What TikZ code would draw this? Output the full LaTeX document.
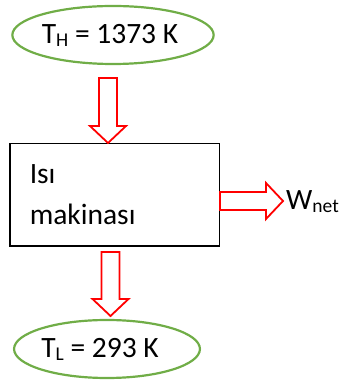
\documentclass[tikz,border=0pt]{standalone}
\usepackage{fontspec}
\setmainfont{Carlito}
\usetikzlibrary{positioning,shapes.geometric,calc}
\definecolor{cres}{HTML}{70AD47}
\definecolor{cflow}{HTML}{FF0000}
\newcommand{\lowsub}[1]{\raisebox{-3pt}{\fontsize{19.5}{20}\selectfont #1}}
\newcommand{\blockarrow}[2]{% start, tip
  \coordinate (hb) at ($(#2)!17pt!(#1)$);
  \draw[flow] ($(#1)!9pt!90:(#2)$) -- ($(hb)!9pt!90:(#2)$) -- ($(hb)!18pt!90:(#2)$)
    -- (#2) -- ($(hb)!18pt!-90:(#2)$) -- ($(hb)!9pt!-90:(#2)$) -- ($(#1)!9pt!-90:(#2)$) -- cycle;}
\tikzset{
  res/.style={ellipse, draw=cres, line width=2.2pt, minimum width=163pt,
              minimum height=58pt, inner sep=0pt, font=\fontsize{29.5}{36}\selectfont},
  machine/.style={rectangle, draw=black, line width=1.5pt, minimum width=209.5pt,
              minimum height=102.5pt, inner xsep=20pt, text width=169.5pt, align=left,
              font=\fontsize{29.5}{41}\selectfont},
  flow/.style={draw=cflow, line width=1.8pt, fill=white, line join=miter}
}

\begin{document}
\begin{tikzpicture}[x=1pt,y=1pt]
\useasboundingbox (0,0) rectangle (338,380);
\node[res] (hot) at (113,345) {T\lowsub{H} = 1373 K\kern6pt};
\node[machine] (eng) at (114.5,185) {Isı\\makinası};
\node[res] (cold) at (107,31) {T\lowsub{L} = 293 K\kern14pt};
\node[anchor=base west, inner sep=0pt, font=\fontsize{29.5}{36}\selectfont] (wnet) at (286,170) {W\lowsub{net}};
\coordinate (h0) at (108,302); \coordinate (h1) at (h0 |- eng.north);
\coordinate (c0) at (110.5,128); \coordinate (c1) at (110.5,64);
\coordinate (w0) at (eng.east |- 0,179); \coordinate (w1) at (283,179);
\blockarrow{h0}{h1}
\blockarrow{c0}{c1}
\blockarrow{w0}{w1}
\end{tikzpicture}
\end{document}
